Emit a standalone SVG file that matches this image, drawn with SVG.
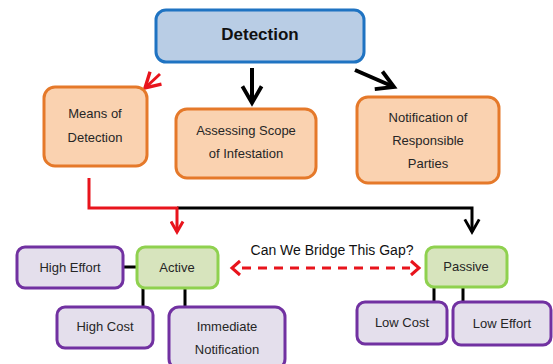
<svg xmlns="http://www.w3.org/2000/svg" width="553" height="364" viewBox="0 0 553 364">
<style>
.blue{fill:#b9cde5;stroke:#1f73c2;stroke-width:3}
.orange{fill:#fad2b0;stroke:#e5792a;stroke-width:3}
.green{fill:#d7e4bd;stroke:#8fd14f;stroke-width:3}
.purple{fill:#e4dfec;stroke:#7131a1;stroke-width:3}
text{font-family:"Liberation Sans",Arial,sans-serif;font-size:13px;fill:#262626;text-anchor:middle}
.title{font-weight:bold;font-size:17px;fill:#111}
.blk{stroke:#000;stroke-width:4;fill:none}
.red{stroke:#e8141c;stroke-width:3;fill:none}
.tree{stroke:#000;stroke-width:3;fill:none}
</style>
<defs>
<marker id="hb" viewBox="0 0 10 10" refX="8" refY="5" markerWidth="6" markerHeight="6" orient="auto" markerUnits="strokeWidth">
<path d="M1,1 L8,5 L1,9" fill="none" stroke="#000" stroke-width="1.6"/>
</marker>
<marker id="hr" viewBox="0 0 10 10" refX="8" refY="5" markerWidth="5" markerHeight="5" orient="auto" markerUnits="strokeWidth">
<path d="M1,1 L8,5 L1,9" fill="none" stroke="#e8141c" stroke-width="2"/>
</marker>
<marker id="hr2" viewBox="0 0 10 10" refX="8" refY="5" markerWidth="7" markerHeight="7" orient="auto" markerUnits="strokeWidth">
<path d="M1,1 L8,5 L1,9" fill="none" stroke="#e8141c" stroke-width="1.6"/>
</marker>
</defs>
<g id="connectors">
<path class="red" d="M160,74 L145,88" marker-end="url(#hr2)"/>
<path class="blk" d="M252,68 L252,103" marker-end="url(#hb)"/>
<path class="blk" d="M355,70 L394,87" marker-end="url(#hb)"/>
<path class="tree" d="M177,208 L472,208 L472,232" marker-end="url(#hr)" style="marker-end:url(#hb)"/>
<path class="red" d="M89,178 L89,208 L177,208 L177,232" marker-end="url(#hr)"/>
<path class="red" d="M242,268 L410,268" stroke-dasharray="9,7" stroke-width="3.5"/>
<path class="red" d="M240,261 L232,268 L240,275 M411,261 L419,268 L411,275" stroke-width="3.5"/>
<path class="tree" d="M123,267 L137,267 M143,288 L143,307 M185,288 L185,307 M434,287 L434,302 M463,287 L463,302"/>
<text x="332" y="255" style="font-size:14px;fill:#111">Can We Bridge This Gap?</text>
</g>
<g id="detection"><rect class="blue" x="156" y="10" width="208" height="52" rx="10"/><text class="title" x="260" y="40">Detection</text></g>
<g id="means"><rect class="orange" x="44" y="87" width="103" height="79" rx="11"/><text x="95" y="118">Means of</text><text x="95" y="142">Detection</text></g>
<g id="assessing"><rect class="orange" x="176" y="109" width="140" height="69" rx="11"/><text x="246" y="135">Assessing Scope</text><text x="246" y="158">of Infestation</text></g>
<g id="notification"><rect class="orange" x="357" y="97" width="142" height="86" rx="11"/><text x="428" y="122">Notification of</text><text x="428" y="145">Responsible</text><text x="428" y="168">Parties</text></g>
<g id="active"><rect class="green" x="137" y="247" width="81" height="41" rx="8"/><text x="177" y="272">Active</text></g>
<g id="passive"><rect class="green" x="426" y="247" width="81" height="40" rx="8"/><text x="466" y="271">Passive</text></g>
<g id="higheffort"><rect class="purple" x="17" y="247" width="106" height="41" rx="8"/><text x="70" y="272">High Effort</text></g>
<g id="highcost"><rect class="purple" x="57" y="307" width="96" height="41" rx="8"/><text x="105" y="331">High Cost</text></g>
<g id="immediate"><rect class="purple" x="169" y="307" width="116" height="62" rx="10"/><text x="227" y="331">Immediate</text><text x="227" y="354">Notification</text></g>
<g id="lowcost"><rect class="purple" x="357" y="302" width="90" height="42" rx="8"/><text x="402" y="327">Low Cost</text></g>
<g id="loweffort"><rect class="purple" x="453" y="302" width="98" height="43" rx="8"/><text x="502" y="328">Low Effort</text></g>
</svg>
